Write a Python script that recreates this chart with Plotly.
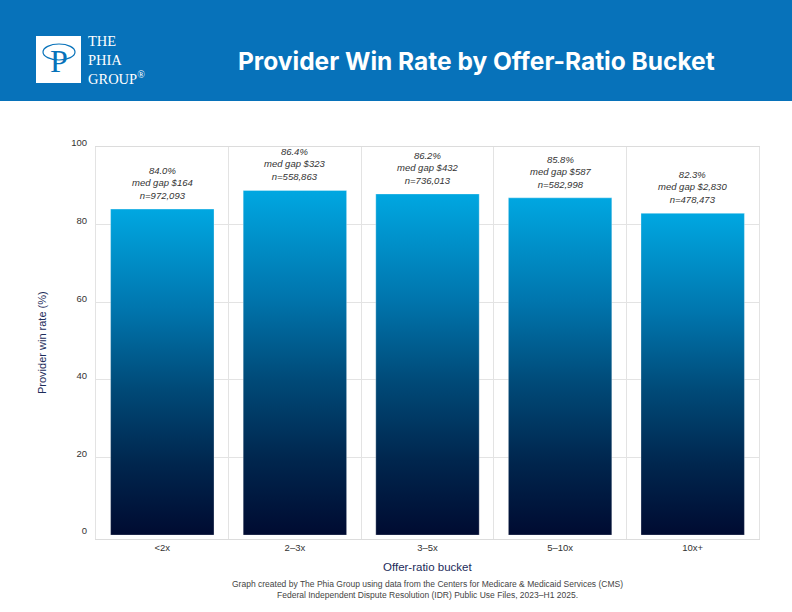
import plotly.graph_objects as go

# Data
buckets = ["<2x", "2–3x", "3–5x", "5–10x", "10x+"]
bar_heights = [84.0, 88.8, 87.9, 86.9, 82.9]
win_rates = [84.0, 86.4, 86.2, 85.8, 82.3]
median_gaps = [164, 323, 432, 587, 2830]
n_disputes = [972093, 558863, 736013, 582998, 478473]
y_ticks = [0, 20, 40, 60, 80, 100]

HEADER_BLUE = "#0772ba"
NAVY = "#1c2b5a"
GRADIENT = [[0.0, "#000b31"], [0.22, "#00264e"], [0.45, "#004a78"],
            [0.69, "#0075ad"], [1.0, "#00a7e1"]]

# plot area in pixels, used to place the header / logo decorations
PL, PR, PT, PB = 96, 759, 147, 539


def px(x):
    return (x - PL) / (PR - PL)


def py(y):
    return (PB - y) / (PB - PT)


fig = go.Figure()

half = 0.39
for i, (cat, h) in enumerate(zip(buckets, bar_heights)):
    fig.add_trace(go.Scatter(
        x=[i - half, i + half, i + half, i - half, i - half],
        y=[0, 0, h, h, 0],
        mode="lines",
        fill="toself",
        fillgradient=dict(type="vertical", colorscale=GRADIENT, start=0, stop=h),
        line=dict(color="rgba(255,255,255,0.3)", width=1),
        name=cat,
        showlegend=False,
        hoverinfo="skip",
    ))

# labels above bars
for i, (h, r, g, n) in enumerate(zip(bar_heights, win_rates, median_gaps, n_disputes)):
    fig.add_annotation(
        x=i, y=h, xref="x", yref="y",
        text=f"{r:.1f}%<br>med gap ${g:,}<br>n={n:,}",
        showarrow=False, yanchor="bottom", yshift=6,
        font=dict(family="Liberation Sans", size=9.5, color="#333333", style="italic"),
    )

# header band
fig.add_shape(type="rect", xref="paper", yref="paper",
              x0=px(0), x1=px(792), y0=py(101), y1=py(0),
              fillcolor=HEADER_BLUE, line_width=0, layer="above")
# logo
fig.add_shape(type="rect", xref="paper", yref="paper",
              x0=px(36), x1=px(81), y0=py(83), y1=py(36),
              fillcolor="white", line_width=0, layer="above")
fig.add_shape(type="circle", xref="paper", yref="paper",
              x0=px(43), x1=px(75), y0=py(60), y1=py(44),
              line=dict(color=HEADER_BLUE, width=1.2), layer="above")
fig.add_annotation(x=px(59), y=py(61), xref="paper", yref="paper",
                   text="P", showarrow=False, xanchor="center", yanchor="middle",
                   font=dict(family="Liberation Serif", size=32, color=HEADER_BLUE))
fig.add_annotation(x=px(86), y=py(60), xref="paper", yref="paper",
                   text="THE<br>PHIA<br>GROUP<sup>®</sup>", showarrow=False,
                   xanchor="left", yanchor="middle", align="left",
                   font=dict(family="Liberation Serif", size=14.5, color="white"))

# title
fig.add_annotation(x=px(476), y=py(61), xref="paper", yref="paper",
                   text="<b>Provider Win Rate by Offer-Ratio Bucket</b>",
                   showarrow=False, xanchor="center", yanchor="middle",
                   font=dict(family="Inter", size=24.5, color="white"))

# axis titles and footer
fig.add_annotation(x=px(42), y=0.5, xref="paper", yref="paper",
                   text="Provider win rate (%)", textangle=-90, showarrow=False,
                   xanchor="center", yanchor="middle",
                   font=dict(family="Liberation Sans", size=11, color=NAVY))
fig.add_annotation(x=0.5, y=py(567), xref="paper", yref="paper",
                   text="Offer-ratio bucket", showarrow=False,
                   xanchor="center", yanchor="middle",
                   font=dict(family="Liberation Sans", size=11.5, color=NAVY))
fig.add_annotation(x=0.5, y=py(589), xref="paper", yref="paper",
                   text="Graph created by The Phia Group using data from the Centers for Medicare & Medicaid Services (CMS)"
                        "<br>Federal Independent Dispute Resolution (IDR) Public Use Files, 2023–H1 2025.",
                   showarrow=False, xanchor="center", yanchor="middle",
                   font=dict(family="Liberation Sans", size=8.5, color="#444444"))

fig.update_layout(
    width=792, height=612, autosize=False,
    margin=dict(l=PL, r=792 - PR, t=PT, b=612 - PB),
    paper_bgcolor="white", plot_bgcolor="white",
    font=dict(family="Liberation Sans", color="#333333"),
    xaxis=dict(
        range=[-0.5, 4.5], tickmode="array",
        tickvals=list(range(len(buckets))), ticktext=buckets,
        showgrid=False, zeroline=False, ticks="",
        showline=True, mirror=True, linecolor="#dcdcdc", linewidth=1,
        tickfont=dict(size=9.5, color="#333333"),
        minor=dict(tickvals=[i + 0.5 for i in range(len(buckets) - 1)],
                   showgrid=True, gridcolor="#e3e3e3", ticks=""),
        fixedrange=True,
    ),
    yaxis=dict(
        range=[-1, 100], tickmode="array", tickvals=y_ticks,
        showgrid=False, zeroline=False, ticks="",
        showline=True, mirror=True, linecolor="#e3e3e3", linewidth=1,
        ticklabelstandoff=6, ticklabelshift=-4,
        tickfont=dict(size=9.5, color="#333333"),
        minor=dict(tickvals=y_ticks[1:], showgrid=True, gridcolor="#e3e3e3", ticks=""),
        fixedrange=True,
    ),
)

fig.write_html("out.html", config={"displayModeBar": False},
               post_script="document.body.style.margin='0';document.body.style.overflow='hidden';")
